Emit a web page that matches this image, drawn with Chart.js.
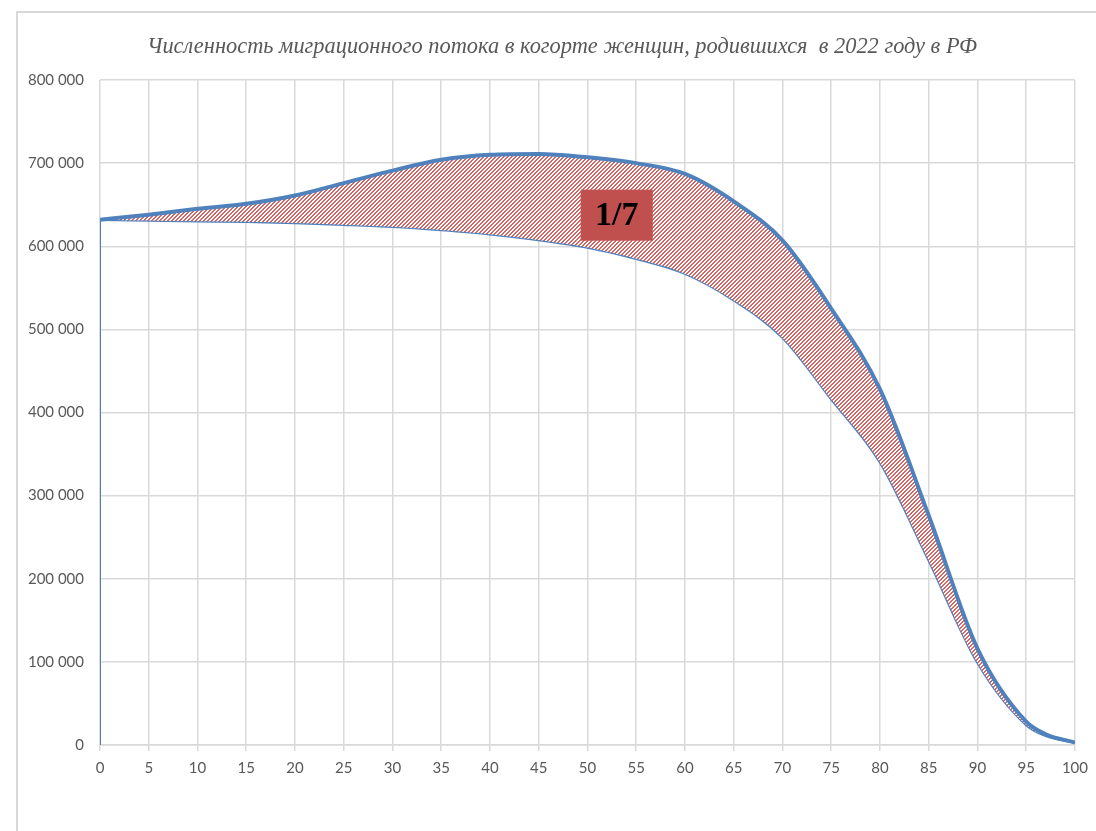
<!DOCTYPE html>
<html>
<head>
<meta charset="utf-8">
<script src="https://cdn.jsdelivr.net/npm/chart.js@4.4.0/dist/chart.umd.min.js"></script>
<style>
  html, body { margin: 0; padding: 0; background: #fff; overflow: hidden; }
  #frame { position: absolute; left: 16px; top: 11px; width: 1200px; height: 1000px;
           border-left: 2px solid #d9d9d9; border-top: 2px solid #d9d9d9; }
  #wrap { position: absolute; left: 0; top: 0; width: 1096px; height: 831px; }
</style>
</head>
<body>
<div id="frame"></div>
<div id="wrap"><canvas id="chart" width="1096" height="831"></canvas></div>
<script>
// age of the cohort (years)
var ages = [0, 5, 10, 15, 20, 25, 30, 35, 40, 45, 50, 55, 60, 65, 70, 75, 80, 85, 90, 95, 97, 100];
// with migration inflow
var withMigration = [632000, 638000, 645000, 651000, 661000, 676000, 691000, 704000, 710000, 711000, 707000,
                     700000, 687000, 654000, 607000, 525000, 428000, 276000, 116000, 28000, 13000, 3000];
// without migration
var noMigration = [632000, 631000, 630000, 629500, 628000, 626000, 623500, 619500, 614500, 607500, 598500,
                   585000, 567000, 535000, 490000, 416000, 340000, 222000, 99000, 24000, 11000, 3000];
var yTicks = [0, 100000, 200000, 300000, 400000, 500000, 600000, 700000, 800000];
var chartTitle = 'Численность миграционного потока в когорте женщин, родившихся  в 2022 году в РФ';
var shareLabel = '1/7';

function toPoints(xs, ys) {
    return xs.map(function (x, i) { return { x: x, y: ys[i] }; });
}

function makeHatch() {
    var c = document.createElement('canvas');
    c.width = 4; c.height = 4;
    var g = c.getContext('2d');
    g.fillStyle = '#ffffff';
    g.fillRect(0, 0, 4, 4);
    g.fillStyle = '#d46764';
    for (var i = 0; i < 4; i++) {
        g.fillRect(3 - i, i, 1, 1);
        g.fillRect((4 - i) % 4, i, 1, 1);
    }
    return g.createPattern(c, 'repeat');
}

var ctx = document.getElementById('chart').getContext('2d');
var hatch = makeHatch();

// title, offset a bit left of the plot centre like the original
var titleText = {
    id: 'titleText',
    afterDraw: function (chart) {
        var c = chart.ctx;
        c.save();
        c.fillStyle = '#595959';
        c.font = 'italic 22.4px "Liberation Serif"';
        c.textAlign = 'center';
        c.textBaseline = 'middle';
        c.fillText(chartTitle, 562, 47);
        c.restore();
    }
};

// label box "1/7" placed in data coordinates
var shareBox = {
    id: 'shareBox',
    afterDatasetsDraw: function (chart) {
        var c = chart.ctx;
        var cx = chart.scales.x.getPixelForValue(53);
        var cy = chart.scales.y.getPixelForValue(638000);
        c.save();
        c.fillStyle = '#c0504d';
        c.fillRect(cx - 36, cy - 25, 72, 51);
        c.fillStyle = '#000';
        c.font = 'bold 34px "Liberation Serif"';
        c.textAlign = 'center';
        c.textBaseline = 'middle';
        c.fillText(shareLabel, cx, cy + 2);
        c.restore();
    }
};

var chart = new Chart(ctx, {
    type: 'line',
    data: {
        datasets: [{
            data: toPoints(ages, withMigration),
            borderColor: '#4f81bd',
            borderWidth: 4,
            backgroundColor: hatch,
            fill: { target: 1 },
            pointRadius: 0,
            cubicInterpolationMode: 'monotone'
        }, {
            data: toPoints(ages, noMigration),
            borderColor: '#4f81bd',
            borderWidth: 2.5,
            fill: false,
            pointRadius: 0,
            cubicInterpolationMode: 'monotone'
        }, {
            // drop line at age 0
            data: [{ x: ages[0], y: 0 }, { x: ages[0], y: noMigration[0] }],
            borderColor: '#4f81bd',
            borderWidth: 2,
            fill: false,
            pointRadius: 0
        }]
    },
    options: {
        responsive: false,
        animation: false,
        layout: { padding: { left: 0, right: 21, top: 80, bottom: 0 } },
        plugins: {
            legend: { display: false },
            tooltip: { enabled: false },
            title: { display: false }
        },
        scales: {
            x: {
                type: 'linear',
                min: 0,
                max: 100,
                ticks: { stepSize: 5, color: '#595959', font: { family: 'Lato', size: 15 }, padding: 8, maxRotation: 0 },
                grid: { color: '#d9d9d9', lineWidth: 1.5, tickLength: 6 },
                border: { color: '#d9d9d9', width: 1.5 },
                afterFit: function (s) { s.height = 86; }
            },
            y: {
                min: 0,
                max: 800000,
                afterBuildTicks: function (s) { s.ticks = yTicks.map(function (v) { return { value: v }; }); },
                ticks: {
                    color: '#595959',
                    font: { family: 'Lato', size: 15 },
                    padding: 16,
                    callback: function (v) { return String(v).replace(/\B(?=(\d{3})+(?!\d))/g, ' '); }
                },
                grid: { color: '#d9d9d9', lineWidth: 1.5, drawTicks: false },
                border: { display: false },
                afterFit: function (s) { s.width = 100; }
            }
        }
    },
    plugins: [shareBox, titleText]
});
</script>
</body>
</html>
